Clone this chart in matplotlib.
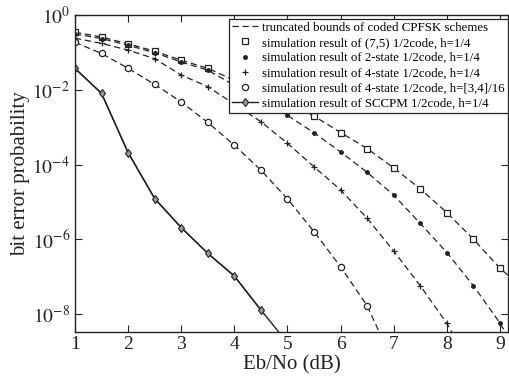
import numpy as np
import matplotlib.pyplot as plt

plt.rcParams['font.family'] = ['Liberation Serif', 'DejaVu Serif']
plt.rcParams['mathtext.fontset'] = 'stix'

# values are log10 of the bit error probability
# (7,5) 1/2code, h=1/4  (points under the legend are not visible)
x_75 = [1, 1.5, 2, 2.5, 3, 3.5, 5.5, 6, 6.5, 7, 7.5, 8, 8.5, 9]
d_75 = [-0.45, -0.58, -0.76, -0.96, -1.2, -1.42, -2.7, -3.14, -3.57, -4.09, -4.65, -5.29, -6.0, -6.78]
# 2-state 1/2code, h=1/4
x_2s = [1, 1.5, 2, 2.5, 3, 3.5, 5, 5.5, 6, 6.5, 7, 7.5, 8, 8.5, 9]
d_2s = [-0.5, -0.62, -0.8, -1.0, -1.25, -1.47, -2.68, -3.15, -3.66, -4.21, -4.82, -5.58, -6.36, -7.25, -8.25]
# 4-state 1/2code, h=1/4
x_4s = [1, 1.5, 2, 2.5, 3, 3.5, 4.5, 5, 5.5, 6, 6.5, 7, 7.5, 8]
d_4s = [-0.61, -0.75, -0.93, -1.16, -1.6, -1.91, -2.85, -3.43, -4.06, -4.68, -5.44, -6.32, -7.25, -8.26]
# 4-state 1/2code, h=[3,4]/16
x_4m = [1, 1.5, 2, 2.5, 3, 3.5, 4, 4.5, 5, 5.5, 6, 6.5]
d_4m = [-0.72, -1.02, -1.42, -1.85, -2.32, -2.87, -3.48, -4.15, -4.92, -5.8, -6.74, -7.79]
# SCCPM 1/2code, h=1/4
x_sc = [1, 1.5, 2, 2.5, 3, 3.5, 4, 4.5]
d_sc = [-1.42, -2.09, -3.68, -4.91, -5.69, -6.38, -6.99, -7.9]

# where each bound leaves the axes
x_end = [9.5, 9.5, 8.5, 7.0, 5.0]
d_end = [-7.4, -9.5, -9.5, -9.33, -8.78]

col = '#222222'
fig = plt.figure(figsize=(5.1, 3.76), dpi=100)
ax = fig.add_axes([0.147, 0.118, 0.849, 0.841])

series = [(x_75, d_75), (x_2s, d_2s), (x_4s, d_4s), (x_4m, d_4m)]
for i, (xs, ds) in enumerate(series):
    bx = list(xs) + [x_end[i]]
    by = 10.0 ** np.array(list(ds) + [d_end[i]])
    ax.plot(bx, by, ls=(0, (5, 3)), color=col, lw=0.9,
            label='truncated bounds of coded CPFSK schemes' if i == 0 else None)

ax.plot(x_75, 10.0 ** np.array(d_75), 's', mfc='white', mec=col, ms=5, mew=0.9, ls='none',
        label='simulation result of (7,5) 1/2code, h=1/4')
ax.plot(x_2s, 10.0 ** np.array(d_2s), '.', color=col, ms=5, ls='none',
        label='simulation result of 2-state 1/2code, h=1/4')
ax.plot(x_4s, 10.0 ** np.array(d_4s), '+', color=col, ms=5, mew=0.9, ls='none',
        label='simulation result of 4-state 1/2code, h=1/4')
ax.plot(x_4m, 10.0 ** np.array(d_4m), 'o', mfc='white', mec=col, ms=4.5, mew=0.9, ls='none',
        label='simulation result of 4-state 1/2code, h=[3,4]/16')
ax.plot(x_sc + [x_end[4]], 10.0 ** np.array(d_sc + [d_end[4]]), '-', color=col, lw=1.0)
ax.plot(x_sc, 10.0 ** np.array(d_sc), '-', marker='d', color=col, mfc='#999999', mec=col,
        ms=4.5, mew=0.8, lw=1.0, label='simulation result of SCCPM 1/2code, h=1/4')

ax.set_yscale('log')
ax.set_xlim(1, 9.15)
ax.set_ylim(10 ** -8.48, 1)
ax.set_xticks([1, 2, 3, 4, 5, 6, 7, 8, 9])
ax.set_yticks([1e0, 1e-2, 1e-4, 1e-6, 1e-8])
ax.set_yticklabels([r'$10^{0}$', r'$10^{-2}$', r'$10^{-4}$', r'$10^{-6}$', r'$10^{-8}$'])
ax.yaxis.set_minor_locator(plt.NullLocator())
ax.tick_params(direction='in', top=True, right=True, length=5, width=0.8, labelsize=14,
               colors=col)
for s in ax.spines.values():
    s.set_linewidth(1.0)
    s.set_color(col)

ax.set_xlabel('Eb/No (dB)', fontsize=15, labelpad=1, color=col)
ax.set_ylabel('bit error probability', fontsize=15, labelpad=2, color=col)

leg = ax.legend(loc='upper right', bbox_to_anchor=(1.0, 0.99), fontsize=9.3, frameon=True,
                fancybox=False, edgecolor=col, framealpha=1, handlelength=2.0,
                handletextpad=0.3, labelspacing=0.24, borderpad=0.25, borderaxespad=0)
leg.get_frame().set_linewidth(0.9)

fig.savefig('out.png', dpi=100)
